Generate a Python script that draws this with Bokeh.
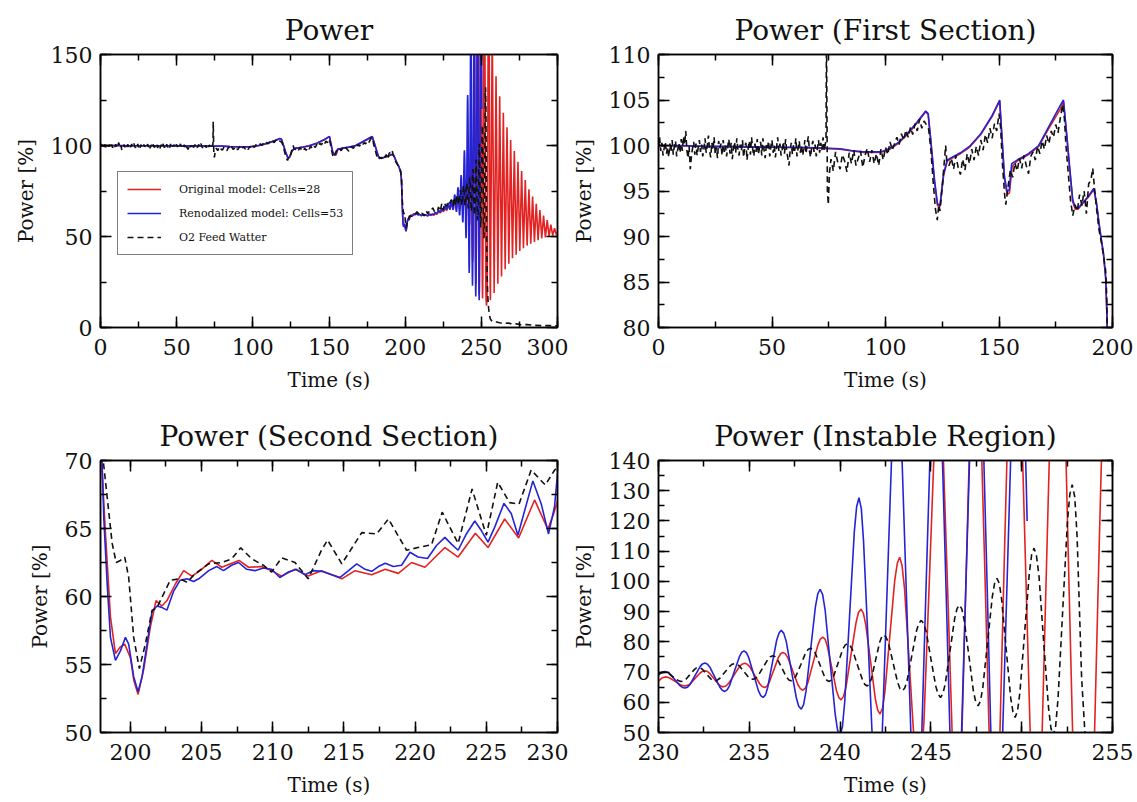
from bokeh.plotting import figure
from bokeh.layouts import column, row
from bokeh.models import LinearAxis, SingleIntervalTicker, Range1d, CustomJSTickFormatter
from bokeh.embed import file_html
from bokeh.resources import INLINE

# ---------------- data ----------------
# Original model: Cells=28 (red)
t_orig_a = [0, 10, 20, 30, 40, 50, 60, 70, 80, 85, 90, 98, 102, 106, 110, 114, 117.7, 118.8, 120, 121.6,
            122.9, 124, 125.6, 127.2, 130, 133, 137, 142, 147, 150.3, 151.2, 152.4, 153.6, 154.6, 155.8, 158,
            163, 167.5, 172, 177, 178.4, 179.8, 181.4, 182.5, 183.6, 184.8, 187.2, 189.6, 191.8, 193, 194,
            195, 196, 197, 197.6]
p_orig_a = [100.0, 99.95, 99.9, 99.85, 99.8, 99.8, 99.75, 99.7, 99.6, 99.4, 99.25, 99.25, 99.6, 100.3, 101.3,
            102.5, 103.7, 103.4, 100.3, 96.0, 93.4, 93.3, 96.7, 98.3, 98.7, 99.1, 99.8, 101.2, 103.2, 104.9,
            101.2, 96.3, 94.6, 94.8, 97.7, 98.3, 99.0, 99.9, 101.9, 104.0, 104.8, 101.1, 96.7, 93.8, 93.0,
            93.0, 93.7, 94.4, 95.2, 93.5, 91.5, 89.7, 88.1, 85.4, 80.8]
t_orig_b = [198.0, 198.25, 198.6, 198.95, 199.3, 199.6, 200.0, 200.25, 200.54, 200.93, 201.4, 201.8, 202.22,
            202.57, 203.15, 203.74, 204.32, 204.9, 205.72, 206.42, 207.12, 207.63, 208.29, 209.22, 209.92,
            210.62, 211.56, 212.49, 213.42, 214.85, 215.78, 216.95, 217.9, 218.82, 219.75, 220.69, 222.09,
            223.02, 224.23, 225.12, 226.29, 227.27, 228.39, 229.32, 229.7]
p_orig_b = [69.5, 64.6, 58.5, 55.8, 56.3, 56.5, 55.5, 53.8, 52.8, 54.6, 57.75, 59.7, 59.3, 59.7, 60.9, 61.9,
            61.5, 61.9, 62.65, 62.15, 62.45, 62.65, 62.15, 62.2, 61.9, 61.5, 62.0, 61.5, 61.9, 61.3, 61.9,
            61.6, 62.0, 61.7, 62.5, 62.15, 63.6, 62.9, 64.65, 63.6, 65.7, 64.3, 67.1, 64.95, 66.0]
t_orig_c = [230.0, 230.18, 230.37, 230.51, 230.64, 230.92, 231.19, 231.32, 231.46, 231.6, 231.74, 232.01,
            232.29, 232.42, 232.56, 232.69, 232.81, 233.06, 233.31, 233.44, 233.56, 233.71, 233.86, 234.16,
            234.45, 234.6, 234.75, 234.89, 235.03, 235.3, 235.58, 235.71, 235.85, 235.98, 236.1, 236.35,
            236.6, 236.73, 236.85, 236.99, 237.13, 237.4, 237.68, 237.81, 237.95, 238.09, 238.23, 238.5,
            238.78, 238.91, 239.05, 239.18, 239.3, 239.55, 239.8, 239.93, 240.05, 240.19, 240.33, 240.6,
            240.88, 241.01, 241.15, 241.28, 241.41, 241.68, 241.94, 242.07, 242.2, 242.34, 242.47, 242.74,
            243.01, 243.15, 243.28, 243.41, 243.55, 243.82, 244.08, 244.22, 244.35, 244.49, 244.62, 244.9,
            245.17, 245.3, 245.44, 245.57, 245.69, 245.95, 246.2, 246.32, 246.45, 246.58, 246.7, 246.95,
            247.2, 247.32, 247.45, 247.58, 247.71, 247.98, 248.24, 248.37, 248.5, 248.64, 248.78, 249.05,
            249.33, 249.46, 249.6, 249.75, 249.9, 250.2, 250.5, 250.65, 250.8, 250.95, 251.1, 251.4,
            251.7, 251.85, 252.0, 252.14, 252.28, 252.55, 252.83, 252.96, 253.1, 253.4, 253.7, 253.84,
            253.98, 254.25, 254.53, 254.66, 254.8, 254.94, 255.09, 255.38, 255.66, 255.81, 255.95]
p_orig_c = [67.0, 68.0, 68.4, 68.3, 67.95, 66.9, 65.85, 65.5, 65.4, 65.6, 66.1, 67.9,
            69.7, 70.2, 70.4, 70.2, 69.6, 67.75, 65.9, 65.3, 65.1, 65.4, 66.25, 69.0,
            71.75, 72.6, 72.9, 72.6, 71.7, 68.9, 66.05, 65.2, 64.9, 65.3, 66.6, 70.7,
            74.8, 76.05, 76.5, 76.0, 74.7, 70.25, 65.8, 64.5, 64.0, 64.7, 66.6, 72.8,
            79.0, 80.9, 81.6, 80.8, 78.55, 71.2, 63.85, 61.6, 60.8, 61.95, 65.2, 75.8,
            86.4, 89.7, 90.8, 89.5, 85.75, 73.45, 61.15, 57.4, 56.1, 58.1, 63.7, 82.05,
            100.4, 106.0, 108.0, 105.3, 97.5, 72.0, 46.5, 38.7, 36.0, 40.7, 54.1, 98.0,
            141.9, 155.3, 160.0, 154.8, 140.1, 92.0, 43.9, 29.2, 24.0, 30.1, 47.5, 104.5,
            161.5, 178.9, 185.0, 178.7, 160.6, 101.5, 42.4, 24.3, 18.0, 24.9, 44.6, 109.0,
            173.4, 193.1, 200.0, 193.0, 173.1, 108.0, 42.9, 23.0, 16.0, 23.4, 44.3, 113.0,
            181.7, 202.6, 210.0, 202.6, 181.5, 112.5, 43.5, 22.4, 15.0, 12.0, 15.0, 22.0,
            42.0, 107.5, 173.0, 193.0, 200.0, 193.0, 173.0, 107.5, 42.0, 22.0, 15.0]
t_orig_d = [257.15, 258.4, 259.65, 260.85, 262.05, 263.25, 264.45, 265.65, 266.85, 268.05, 269.25, 270.45,
            271.65, 272.85, 274.05, 275.25, 276.45, 277.65, 278.85, 280.05, 281.25, 282.45, 283.65, 284.85,
            286.05, 287.25, 288.45, 289.65, 290.85, 292.05, 293.25, 294.45, 295.65, 296.85, 298.05, 299.25,
            300.0]
p_orig_d = [165, 19, 138, 24, 127, 28, 118, 32, 110, 35, 103, 38, 97, 40, 91, 42, 86, 43.5, 81, 45, 76, 46,
            72, 47, 68, 48, 64.5, 49, 61.5, 49.5, 59, 50, 56.5, 50.5, 54.5, 51, 52.5]

# Renodalized model: Cells=53 (blue)
t_reno_a = [0, 10, 20, 30, 40, 50, 60, 70, 80, 85, 90, 98, 102, 106, 110, 114, 117.7, 118.8, 120, 121.6,
            122.9, 124, 125.6, 127.2, 130, 133, 137, 142, 147, 150.3, 151.2, 152.4, 153.5, 154.5, 155.6, 158,
            163, 167.5, 172, 177, 178.4, 179.8, 181.4, 182.5, 183.6, 184.8, 187.2, 189.6, 191.8, 193, 194,
            195, 196, 197, 197.6]
p_reno_a = [100.0, 100.0, 99.9, 99.9, 99.85, 99.8, 99.8, 99.75, 99.65, 99.45, 99.3, 99.3, 99.7, 100.4, 101.4,
            102.6, 103.8, 103.5, 100.5, 96.2, 93.6, 93.4, 96.9, 98.4, 98.8, 99.2, 99.9, 101.3, 103.3, 105.0,
            101.4, 96.6, 95.0, 95.1, 98.0, 98.4, 99.1, 100.0, 102.1, 104.4, 105.0, 101.3, 96.9, 94.0, 93.2,
            93.1, 93.8, 94.5, 95.3, 93.6, 91.6, 89.8, 88.2, 85.5, 81.0]
t_reno_b = [198.0, 198.13, 198.37, 198.6, 198.95, 199.3, 199.65, 199.88, 200.23, 200.54, 200.82, 201.17,
            201.52, 201.87, 202.2, 202.57, 203.04, 203.5, 203.97, 204.44, 204.8, 205.5, 206.07, 206.54, 207.1,
            207.6, 208.17, 208.75, 209.34, 209.92, 210.5, 211.1, 211.67, 212.26, 212.84, 213.45, 214.15,
            214.73, 215.32, 215.9, 216.48, 216.95, 217.42, 217.9, 218.47, 219.05, 219.64, 220.2, 220.87,
            221.5, 222.09, 222.55, 223.02, 223.6, 224.19, 224.65, 225.12, 225.59, 226.24, 226.75, 227.22,
            227.69, 228.27, 228.86, 229.37, 229.79, 230.0]
p_reno_b = [70.2, 65.8, 60.9, 57.0, 55.3, 56.0, 57.0, 56.5, 54.1, 53.0, 54.1, 56.5, 58.9, 59.3, 59.2, 59.0,
            60.4, 61.2, 61.3, 61.1, 61.3, 61.9, 62.2, 61.9, 62.3, 62.5, 62.0, 61.9, 62.1, 62.0, 61.4, 61.8,
            62.0, 61.6, 61.9, 61.85, 61.6, 61.4, 61.9, 62.4, 62.0, 61.85, 62.2, 62.45, 62.2, 62.3, 63.25,
            62.9, 62.8, 63.75, 64.35, 63.85, 63.4, 64.6, 65.55, 64.85, 64.0, 65.1, 66.85, 66.1, 64.5, 66.3,
            68.5, 66.8, 64.6, 66.6, 69.0]
t_reno_c = [230.18, 230.35, 230.49, 230.63, 230.91, 231.18, 231.32, 231.46, 231.6, 231.74, 232.01, 232.29,
            232.42, 232.56, 232.7, 232.83, 233.1, 233.38, 233.51, 233.65, 233.78, 233.92, 234.18, 234.45,
            234.58, 234.71, 234.84, 234.97, 235.24, 235.5, 235.63, 235.76, 235.89, 236.01, 236.26, 236.51,
            236.64, 236.76, 236.9, 237.04, 237.31, 237.59, 237.72, 237.86, 237.99, 238.12, 238.38, 238.64,
            238.77, 238.9, 239.04, 239.18, 239.45, 239.73, 239.86, 240.0, 240.13, 240.26, 240.52, 240.78,
            240.91, 241.04, 241.17, 241.29, 241.55, 241.8, 241.92, 242.05, 242.18, 242.32, 242.59, 242.86,
            242.99, 243.12, 243.26, 243.39, 243.66, 243.93, 244.07, 244.2, 244.34, 244.48, 244.75, 245.03,
            245.16, 245.3, 245.43, 245.56, 245.83, 246.09, 246.22, 246.35, 246.5, 246.65, 246.95, 247.25,
            247.4, 247.55, 247.68, 247.81, 248.08, 248.34, 248.47, 248.6, 248.76, 248.91, 249.22, 249.53,
            249.69, 249.85, 250.1, 250.3]
p_reno_c = [69.9, 70.2, 70.0, 69.4, 67.45, 65.5, 64.9, 64.7, 65.0, 65.9, 68.85, 71.8,
            72.7, 73.0, 72.6, 71.6, 68.3, 65.0, 63.95, 63.6, 64.1, 65.6, 70.3, 75.0,
            76.5, 77.0, 76.4, 74.75, 69.3, 63.85, 62.2, 61.6, 62.45, 64.8, 72.7, 80.6,
            82.95, 83.8, 82.8, 80.0, 70.75, 61.5, 58.7, 57.7, 59.2, 63.5, 77.55, 91.6,
            95.9, 97.4, 95.6, 90.3, 73.2, 56.1, 50.8, 49.0, 52.0, 60.5, 88.35, 116.2,
            124.7, 127.7, 124.0, 113.4, 78.85, 44.3, 33.7, 30.0, 35.1, 49.7, 97.5, 145.3,
            159.9, 165.0, 159.6, 144.3, 94.0, 43.7, 28.4, 23.0, 29.0, 45.9, 101.5, 157.1,
            174.0, 180.0, 173.8, 156.2, 98.5, 40.8, 23.2, 17.0, 23.6, 42.3, 103.5, 164.7,
            183.4, 190.0, 183.4, 164.4, 102.5, 40.6, 21.6, 15.0, 21.8, 41.3, 105.0, 168.7,
            188.2, 195.0, 170.0, 120.0]

# O2 Feed Watter (black dashed)
t_feed_a = [0, 0.5, 1, 1.5, 2, 2.5, 3, 3.5, 4, 4.5, 5, 5.5, 6, 6.5, 7, 7.5, 8, 8.5, 9, 9.5,
            10, 10.5, 11, 11.5, 12, 12.5, 13, 13.5, 14, 14.5, 15, 15.5, 16, 16.5, 17, 17.5, 18, 18.5, 19, 19.5,
            20, 20.5, 21, 21.5, 22, 22.5, 23, 23.5, 24, 24.5, 25, 25.5, 26, 26.5, 27, 27.5, 28, 28.5, 29, 29.5,
            30, 30.5, 31, 31.5, 32, 32.5, 33, 33.5, 34, 34.5, 35, 35.5, 36, 36.5, 37, 37.5, 38, 38.5, 39, 39.5,
            40, 40.5, 41, 41.5, 42, 42.5, 43, 43.5, 44, 44.5, 45, 45.5, 46, 46.5, 47, 47.5, 48, 48.5, 49, 49.5,
            50, 50.5, 51, 51.5, 52, 52.5, 53, 53.5, 54, 54.5, 55, 55.5, 56, 56.5, 57, 57.5, 58, 58.5, 59, 59.5,
            60, 60.5, 61, 61.5, 62, 62.5, 63, 63.5, 64, 64.5, 65, 65.5, 66, 66.5, 67, 67.5, 68, 68.5, 69, 69.5,
            70, 70.5, 71, 71.5, 72, 72.5, 73, 73.5]
p_feed_a = [99.8, 100.9, 99.4, 100.3, 98.9, 99.7, 100.4, 99.1, 99.8, 98.7,
            100.2, 99.3, 100.6, 99.0, 99.9, 100.5, 98.8, 99.6, 100.3, 99.2,
            100.7, 99.4, 101.0, 100.1, 101.6, 99.5, 98.6, 99.9, 97.4, 98.8,
            99.7, 100.4, 99.0, 100.2, 98.9, 99.8, 100.6, 99.3, 100.1, 98.8,
            99.6, 100.8, 99.2, 100.0, 101.1, 99.4, 98.7, 100.3, 99.5, 100.9,
            99.0, 99.8, 98.6, 100.5, 99.7, 100.2, 98.9, 100.6, 99.3, 100.0,
            98.8, 99.9, 100.7, 99.1, 100.3, 98.5, 99.6, 100.4, 99.2, 100.8,
            99.5, 98.9, 100.1, 99.4, 100.6, 98.7, 99.9, 100.3, 98.4, 99.7,
            100.5, 99.0, 100.9, 99.6, 98.8, 100.2, 99.3, 100.7, 99.0, 99.8,
            100.4, 98.9, 100.8, 99.5, 98.6, 100.1, 99.7, 100.5, 98.8, 99.9,
            100.6, 99.2, 100.0, 98.7, 99.8, 100.9, 99.4, 100.2, 98.9, 99.6,
            100.4, 99.1, 100.7, 99.3, 98.6, 97.8, 99.5, 100.3, 99.0, 100.1,
            99.4, 100.8, 98.8, 99.7, 100.5, 99.2, 100.0, 98.9, 99.6, 100.6,
            99.1, 100.2, 101.0, 99.4, 98.7, 99.9, 100.5, 99.3, 100.1, 98.8,
            99.7, 100.6, 99.2, 100.3, 99.5, 100.9, 99.4, 100.2]
t_feed_b = [73.8, 74.0, 74.4, 74.8, 75.3, 76, 77, 78, 79, 80, 81, 82, 83, 84, 85, 86, 87, 88, 89, 90, 91, 92,
            93, 94, 95, 96, 97, 98, 99, 100, 101, 102, 103, 104, 105, 106, 107, 108, 109, 110, 111, 112, 113,
            114, 115, 116, 117, 118, 119, 120, 121, 122, 122.8, 123.5, 124, 125, 126, 126.5, 127, 128, 129,
            130, 131, 132, 133, 134, 135, 136, 137, 138, 139, 140, 141, 142, 143, 144, 145, 146, 147, 148,
            149, 150, 150.7, 151.5, 152.5, 153, 154, 155, 156, 157, 158, 159, 160, 161, 162, 163, 164, 165,
            166, 167, 168, 169, 170, 171, 172, 173, 174, 175, 176, 177, 178, 178.8, 179.5, 180.5, 181.5,
            182.5, 183.5, 184.5, 185.5, 186.5, 187.5, 188.5, 189.5, 190.5, 191.3, 192, 193, 194, 195, 196,
            197, 197.5]
p_feed_b = [100.5, 113.0, 95.0, 93.5, 97.0, 98.5, 97.2, 99.3, 98.1, 97.4, 99.0, 98.3, 97.1, 99.2, 98.0, 99.5,
            97.8, 98.6, 99.4, 97.6, 98.9, 99.7, 98.2, 99.5, 98.0, 99.1, 97.8, 99.6, 98.4, 99.8, 99.0, 100.4,
            99.5, 100.2, 100.9, 100.1, 101.3, 100.6, 101.7, 100.9, 102.0, 101.2, 102.4, 101.6, 102.9, 101.9,
            102.7, 102.3, 101.8, 99.5, 96.0, 93.0, 91.8, 93.5, 92.8, 95.5, 98.5, 100.0, 98.2, 97.8, 98.6,
            97.4, 98.9, 97.6, 96.8, 98.5, 97.3, 99.1, 98.0, 99.6, 98.4, 99.9, 98.9, 100.6, 99.5, 101.2,
            100.3, 101.9, 100.8, 102.4, 101.6, 103.5, 102.0, 98.0, 94.5, 93.5, 95.5, 97.3, 96.5, 98.1, 97.2,
            98.6, 97.5, 98.9, 97.8, 96.9, 98.8, 99.3, 98.4, 99.9, 99.1, 100.5, 99.6, 101.1, 100.2, 101.6,
            100.9, 102.3, 101.4, 103.0, 104.5, 103.0, 100.0, 97.0, 94.0, 92.3, 93.5, 92.8, 94.6, 93.4, 95.0,
            92.5, 95.8, 96.2, 97.5, 95.5, 93.0, 90.8, 89.5, 88.0, 86.2, 83.0]
t_feed_c = [198.06, 198.37, 198.72, 199.0, 199.3, 199.6, 199.88, 200.23, 200.63, 201.05, 201.52, 201.87,
            202.22, 202.8, 203.5, 203.97, 204.55, 205.49, 206.42, 207.12, 207.75, 208.52, 209.34, 209.92,
            210.62, 211.56, 212.49, 213.42, 213.85, 214.85, 216.25, 217.3, 218.12, 219.4, 220.2, 221.15,
            221.9, 223.02, 224.0, 225.0, 225.8, 226.64, 227.3, 228.15, 229.14, 229.8]
p_feed_c = [70.3, 67.3, 63.9, 62.5, 62.65, 62.9, 61.4, 57.0, 54.7, 56.5, 58.97, 59.2, 59.95, 61.2, 61.3,
            61.05, 61.67, 62.4, 62.5, 62.77, 63.58, 62.77, 62.3, 61.8, 62.84, 62.5, 61.3, 63.4, 64.15, 62.4,
            64.7, 64.6, 65.7, 63.4, 63.6, 63.8, 66.2, 63.9, 67.9, 64.5, 68.4, 66.9, 66.8, 69.3, 68.2, 69.3]
t_feed_d = [230.0, 230.3, 230.42, 230.55, 230.79, 231.04, 231.16, 231.28, 231.4, 231.51, 231.74, 231.97,
            232.09, 232.2, 232.31, 232.43, 232.65, 232.88, 232.99, 233.1, 233.24, 233.38, 233.65, 233.93,
            234.06, 234.2, 234.33, 234.45, 234.7, 234.95, 235.08, 235.2, 235.34, 235.48, 235.75, 236.03,
            236.16, 236.3, 236.43, 236.55, 236.8, 237.05, 237.18, 237.3, 237.43, 237.57, 237.84, 238.1,
            238.24, 238.37, 238.5, 238.63, 238.89, 239.14, 239.27, 239.4, 239.53, 239.65, 239.9, 240.15,
            240.28, 240.4, 240.54, 240.68, 240.95, 241.23, 241.36, 241.5, 241.61, 241.73, 241.95, 242.18,
            242.29, 242.4, 242.53, 242.66, 242.92, 243.17, 243.3, 243.43, 243.56, 243.69, 243.95, 244.21,
            244.34, 244.47, 244.6, 244.74, 245.0, 245.27, 245.4, 245.53, 245.66, 245.79, 246.05, 246.31,
            246.44, 246.57, 246.7, 246.83, 247.09, 247.34, 247.47, 247.6, 247.73, 247.86, 248.12, 248.38,
            248.51, 248.64, 248.77, 248.89, 249.14, 249.39, 249.52, 249.64, 249.77, 249.9, 250.16, 250.42,
            250.55, 250.68, 250.81, 250.95, 251.21, 251.48, 251.61, 251.74, 251.87, 252.0, 252.26, 252.52,
            252.65, 252.78, 252.92, 253.05, 253.3, 253.5, 253.85, 254.2, 254.6, 255.0, 255.5, 256.0]
p_feed_d = [69.5, 70.0, 69.9, 69.55, 68.45, 67.35, 67.0, 66.9, 67.05, 67.6, 69.2, 70.8,
            71.35, 71.5, 71.35, 70.85, 69.3, 67.75, 67.25, 67.1, 67.3, 67.95, 69.95, 71.95,
            72.6, 72.8, 72.6, 72.05, 70.2, 68.35, 67.8, 67.6, 67.9, 68.75, 71.5, 74.25,
            75.1, 75.4, 75.1, 74.2, 71.25, 68.3, 67.4, 67.1, 67.5, 68.7, 72.5, 76.3,
            77.5, 77.9, 77.5, 76.3, 72.4, 68.5, 67.3, 66.9, 67.4, 68.7, 73.15, 77.6,
            78.9, 79.4, 78.9, 77.35, 72.4, 67.45, 65.9, 65.4, 66.05, 67.85, 73.85, 79.85,
            81.65, 82.3, 81.6, 79.6, 73.05, 66.5, 64.5, 63.8, 64.7, 67.2, 75.45, 83.7,
            86.2, 87.1, 86.1, 83.4, 74.35, 65.3, 62.6, 61.6, 62.8, 66.1, 76.9, 87.75,
            91.0, 92.2, 90.9, 87.3, 75.5, 63.7, 60.1, 58.8, 60.4, 64.95, 79.9, 94.85,
            99.4, 101.0, 99.25, 94.3, 78.0, 61.7, 56.75, 55.0, 57.1, 63.2, 83.0, 102.8,
            108.9, 111.0, 108.6, 101.95, 80.0, 58.05, 51.4, 49.0, 52.2, 61.1, 90.5, 119.9,
            128.8, 132.0, 128.0, 115.0, 68.0, 48.0, 28.0, 18.0, 12.0, 9.0, 6.0, 4.5]
t_feed_e = [257, 258, 260, 262, 265, 268, 270, 273, 276, 280, 285, 290, 295, 300]
p_feed_e = [3.5, 3.0, 3.0, 2.6, 2.2, 2.5, 1.8, 2.0, 1.5, 1.6, 1.2, 1.0, 1.1, 0.8]

t_orig = t_orig_a + t_orig_b + t_orig_c + t_orig_d
p_orig = p_orig_a + p_orig_b + p_orig_c + p_orig_d
t_reno = t_reno_a + t_reno_b + t_reno_c
p_reno = p_reno_a + p_reno_b + p_reno_c
t_feed = t_feed_a + t_feed_b + t_feed_c + t_feed_d + t_feed_e
p_feed = p_feed_a + p_feed_b + p_feed_c + p_feed_d + p_feed_e

series_labels = ["Original model: Cells=28", "Renodalized model: Cells=53", "O2 Feed Watter"]
titles = ["Power", "Power (First Section)", "Power (Second Section)", "Power (Instable Region)"]

# ---------------- styling ----------------
FONT = "DejaVu Serif"
RED = "#e32222"
BLUE = "#2424d6"
BLACK = "#111111"


def style_axis(ax, major, labels=True, label_standoff=8):
    ax.ticker = SingleIntervalTicker(interval=major, num_minor_ticks=2)
    ax.major_tick_in = 11
    ax.major_tick_out = 0
    ax.minor_tick_in = 6
    ax.minor_tick_out = 0
    ax.axis_line_color = "black"
    ax.axis_line_width = 1.5
    ax.major_tick_line_color = "black"
    ax.major_tick_line_width = 1.5
    ax.minor_tick_line_color = "black"
    ax.minor_tick_line_width = 1.5
    if labels:
        ax.major_label_text_font = FONT
        ax.major_label_text_font_size = "22px"
        ax.major_label_text_color = "#111111"
        ax.major_label_standoff = label_standoff
        ax.axis_label_text_font = FONT
        ax.axis_label_text_font_size = "20px"
        ax.axis_label_text_font_style = "normal"
        ax.axis_label_text_color = "#111111"
        ax.axis_label_standoff = 10
    else:
        ax.formatter = CustomJSTickFormatter(code="return ''")
        ax.major_label_standoff = 0
        ax.major_label_text_font_size = "0px"


def make_fig(title, xr, yr, xmaj, ymaj, w, bl, br, bt, bb, legend=False):
    p = figure(width=w, height=401, x_range=Range1d(*xr), y_range=Range1d(*yr),
               output_backend="svg", toolbar_location=None, title=title,
               min_border_left=bl, min_border_right=br, min_border_top=bt, min_border_bottom=bb)
    p.grid.visible = False
    p.outline_line_color = "black"
    p.outline_line_width = 1.5
    p.background_fill_color = "white"
    p.border_fill_color = "white"
    style_axis(p.xaxis[0], xmaj, label_standoff=11)
    style_axis(p.yaxis[0], ymaj, label_standoff=8)
    p.xaxis.axis_label = "Time (s)"
    p.yaxis.axis_label = "Power [%]"
    top = LinearAxis()
    style_axis(top, xmaj, labels=False)
    p.add_layout(top, "above")
    right = LinearAxis()
    style_axis(right, ymaj, labels=False)
    p.add_layout(right, "right")
    p.title.text_font = FONT
    p.title.text_font_size = "28px"
    p.title.text_font_style = "normal"
    p.title.text_color = "#111111"
    p.title.align = "center"
    p.title.vertical_align = "top"
    p.title.standoff = 12
    if legend:
        p.line(t_orig, p_orig, color=RED, line_width=1.6, legend_label=series_labels[0])
        p.line(t_reno, p_reno, color=BLUE, line_width=1.6, legend_label=series_labels[1])
        p.line(t_feed, p_feed, color=BLACK, line_width=1.6, line_dash="6 4", legend_label=series_labels[2])
        lg = p.legend[0]
        lg.location = (17, 72)
        lg.border_line_color = "black"
        lg.border_line_width = 1.2
        lg.background_fill_color = "white"
        lg.background_fill_alpha = 1.0
        lg.label_text_font = FONT
        lg.label_text_font_size = "11px"
        lg.label_text_color = "#111111"
        lg.glyph_width = 34
        lg.glyph_height = 16
        lg.label_height = 16
        lg.label_standoff = 18
        lg.spacing = 8
        lg.padding = 9
        lg.margin = 0
    else:
        p.line(t_orig, p_orig, color=RED, line_width=1.6)
        p.line(t_reno, p_reno, color=BLUE, line_width=1.6)
        p.line(t_feed, p_feed, color=BLACK, line_width=1.6, line_dash="6 4")
    return p


p1 = make_fig(titles[0], (0, 300), (0, 150), 50, 50, 568, 100, 11, 54, 74, legend=True)
p2 = make_fig(titles[1], (0, 200), (80, 110), 50, 5, 569, 89, 25, 54, 74)
p3 = make_fig(titles[2], (197.9, 230), (50, 70), 5, 5, 568, 100, 11, 59, 70)
p4 = make_fig(titles[3], (230, 255), (50, 140), 5, 10, 569, 89, 25, 59, 70)

layout = column(row(p1, p2), row(p3, p4))
open("out.html", "w").write(file_html(layout, INLINE))
